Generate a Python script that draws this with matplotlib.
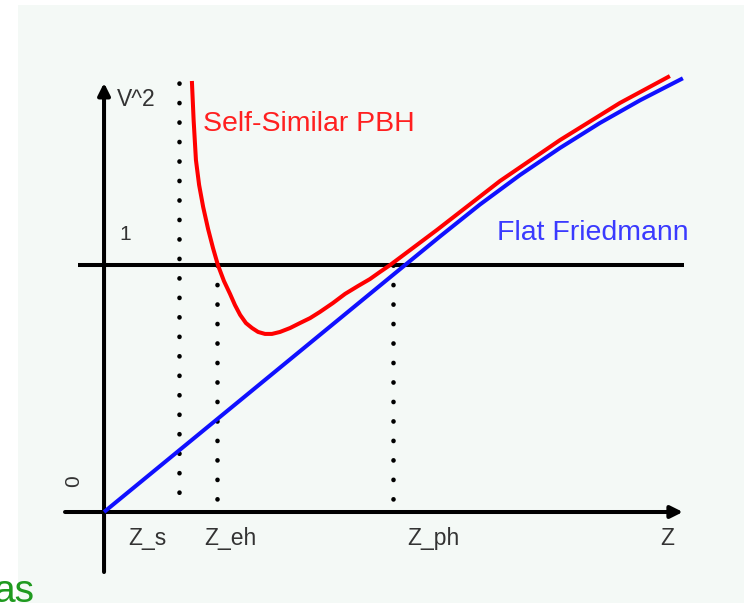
import matplotlib
matplotlib.use("Agg")
import matplotlib.pyplot as plt
from matplotlib.patches import Rectangle

plt.rcParams['font.family'] = ['Liberation Sans', 'DejaVu Sans']

# data units: Z_ph = 1 on the z axis, V^2 = 1 on the vertical axis
friedmann_z = [0, 0.5, 1.0, 1.163, 1.301, 1.439, 1.578, 1.716, 1.855, 2.003]
friedmann_v = [0, 0.48, 0.96, 1.116, 1.245, 1.364, 1.474, 1.575, 1.667, 1.756]

pbh_z = [0.304, 0.310, 0.318, 0.329, 0.343, 0.360, 0.377, 0.394, 0.415, 0.436,
         0.453, 0.471, 0.491, 0.512, 0.533, 0.557, 0.581, 0.609, 0.644, 0.678,
         0.713, 0.747, 0.792, 0.834, 0.879, 0.920, 0.955, 0.990, 1.152, 1.370,
         1.578, 1.785, 1.958]
pbh_v = [1.745, 1.587, 1.425, 1.324, 1.235, 1.146, 1.069, 1.0, 0.935, 0.883,
         0.838, 0.798, 0.765, 0.745, 0.729, 0.721, 0.721, 0.729, 0.745, 0.765,
         0.785, 0.810, 0.846, 0.883, 0.915, 0.943, 0.972, 1.0, 1.142, 1.340,
         1.506, 1.656, 1.765]

z_s, z_eh, z_ph = 0.260, 0.391, 1.0
tick_names = ["Z_s", "Z_eh", "Z_ph"]

fig = plt.figure(figsize=(7.44, 6.03), dpi=100)
ax = fig.add_axes([0, 0, 1, 1])
ax.set_xlim(-0.360, 2.2145)
ax.set_ylim(-0.3684, 2.0729)
ax.axis("off")

# pale slide background
ax.add_patch(Rectangle((18 / 744, 0), 1 - 18 / 744, 598 / 603, transform=ax.transAxes,
                       facecolor="#f4f9f6", edgecolor="none", zorder=0))

lw = 2.9
dot = (0, (0.05, 4.2))

# dotted markers
for zz, top, bottom in [(z_s, 1.737, 0.065), (z_eh, 1.0, 0.036), (z_ph, 1.0, 0.036)]:
    ax.plot([zz, zz], [top, bottom], color="black", lw=3.3, linestyle=dot,
            dash_capstyle="round", zorder=2)

# axes with arrows
ax.annotate("", xy=(2.003, 0), xytext=(-0.135, 0),
            arrowprops=dict(arrowstyle="-|>", lw=lw, color="black", mutation_scale=18,
                            shrinkA=0, shrinkB=0), zorder=3)
ax.annotate("", xy=(0, 1.737), xytext=(0, -0.243),
            arrowprops=dict(arrowstyle="-|>", lw=lw, color="black", mutation_scale=18,
                            shrinkA=0, shrinkB=0), zorder=3)
ax.plot([-0.09, 2.007], [1, 1], color="black", lw=lw, zorder=3, solid_capstyle="butt")

# curves
ax.plot(friedmann_z, friedmann_v, color="#1010ff", lw=lw, zorder=4,
        solid_joinstyle="round", solid_capstyle="butt")
ax.plot(pbh_z, pbh_v, color="#ff0000", lw=lw, zorder=5,
        solid_joinstyle="round", solid_capstyle="butt")

# labels
lab = dict(color="#333333", fontsize=16.5)
ax.text(0.045, 1.645, "V^2", ha="left", va="baseline", **lab)
ax.text(0.052, 1.101, "1", ha="left", va="baseline", fontsize=15, color="#333333")
ax.text(-0.104, 0.125, "0", ha="center", va="center", rotation=90, fontsize=15,
        color="#333333")
for zz, name in zip([0.083, 0.346, 1.05], tick_names):
    ax.text(zz, -0.134, name, ha="left", va="baseline", **lab)
ax.text(1.924, -0.134, "Z", ha="left", va="baseline", **lab)

ax.text(0.343, 1.543, "Self-Similar PBH", color="#ff2020", fontsize=20.5,
        ha="left", va="baseline")
ax.text(1.360, 1.101, "Flat Friedmann", color="#3a3aff", fontsize=20.5,
        ha="left", va="baseline")

# slide text fragment bottom-left (cut by the edge, as in the source image)
fig.text(34 / 744, 1 / 603, "as", color="#1f9a1f", fontsize=28, ha="right",
         va="baseline")

fig.savefig("out.png", dpi=100)
